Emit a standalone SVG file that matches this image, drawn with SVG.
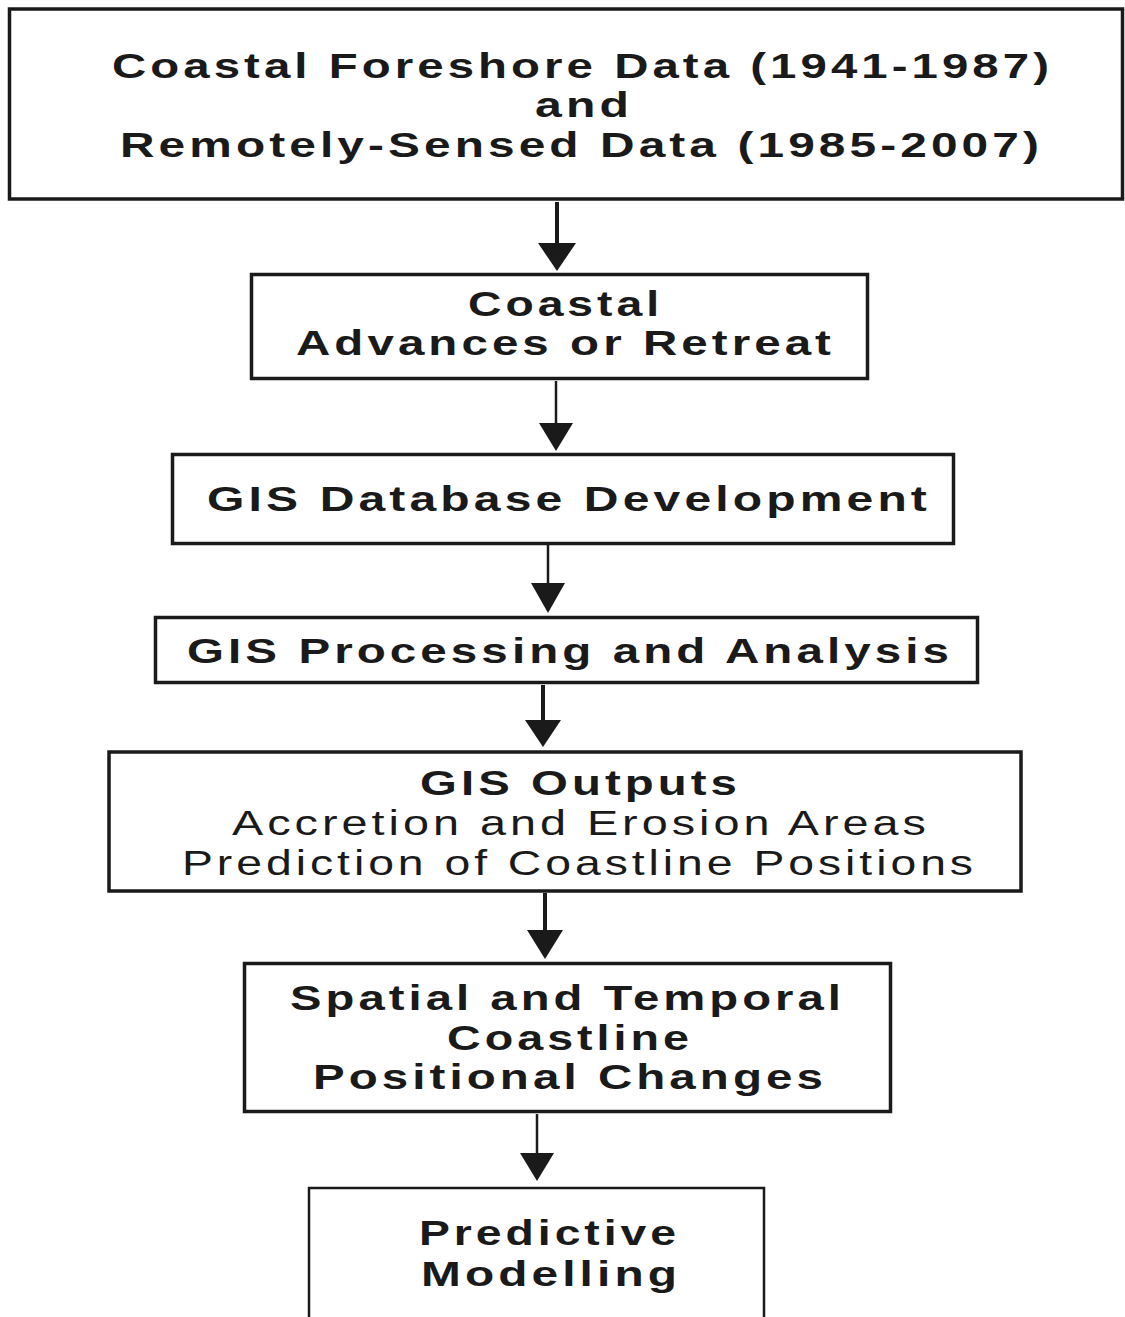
<svg xmlns="http://www.w3.org/2000/svg" width="1125" height="1317" viewBox="0 0 1125 1317">
<style>
.box{fill:#fff;stroke:#1a1a1a;stroke-width:3.5}
.thin{stroke-width:2.5}
.t{font-family:"Liberation Sans",Arial,sans-serif;font-size:35px;font-weight:bold;fill:#1a1a1a;letter-spacing:3px}
.n{font-weight:normal}
.ln{stroke:#1a1a1a;fill:none}
.ah{fill:#1a1a1a}
</style>
<rect width="1125" height="1317" fill="#fff"/>
<g id="connectors">
<line class="ln" x1="557" y1="202" x2="557" y2="246" stroke-width="4"/>
<polygon class="ah" points="538,243 576,243 557,271"/>
<line class="ln" x1="556" y1="381" x2="556" y2="426" stroke-width="2.5"/>
<polygon class="ah" points="539,423 573,423 556,451"/>
<line class="ln" x1="548" y1="545" x2="548" y2="586" stroke-width="2.5"/>
<polygon class="ah" points="531,583 565,583 548,613"/>
<line class="ln" x1="543" y1="685" x2="543" y2="723" stroke-width="4"/>
<polygon class="ah" points="525,720 561,720 543,747"/>
<line class="ln" x1="545" y1="893" x2="545" y2="933" stroke-width="4"/>
<polygon class="ah" points="527,930 563,930 545,959"/>
<line class="ln" x1="537" y1="1114" x2="537" y2="1156" stroke-width="2.5"/>
<polygon class="ah" points="520,1153 554,1153 537,1181"/>
</g>
<g id="node1">
<rect class="box" x="9.5" y="9" width="1113" height="190"/>
<text class="t" x="112" y="78" textLength="941" lengthAdjust="spacingAndGlyphs">Coastal Foreshore Data (1941-1987)</text>
<text class="t" x="535" y="117" textLength="98" lengthAdjust="spacingAndGlyphs">and</text>
<text class="t" x="120" y="157" textLength="923" lengthAdjust="spacingAndGlyphs">Remotely-Sensed Data (1985-2007)</text>
</g>
<g id="node2">
<rect class="box" x="251.5" y="274.5" width="616" height="104"/>
<text class="t" x="468" y="316" textLength="195" lengthAdjust="spacingAndGlyphs">Coastal</text>
<text class="t" x="296" y="355" textLength="539" lengthAdjust="spacingAndGlyphs">Advances or Retreat</text>
</g>
<g id="node3">
<rect class="box" x="172.5" y="454.5" width="781" height="89"/>
<text class="t" x="207" y="511" textLength="724" lengthAdjust="spacingAndGlyphs">GIS Database Development</text>
</g>
<g id="node4">
<rect class="box" x="155.5" y="617.5" width="822" height="65"/>
<text class="t" x="187" y="663" textLength="766" lengthAdjust="spacingAndGlyphs">GIS Processing and Analysis</text>
</g>
<g id="node5">
<rect class="box" x="109" y="752" width="912" height="139"/>
<text class="t" x="420" y="795" textLength="321" lengthAdjust="spacingAndGlyphs">GIS Outputs</text>
<text class="t n" x="232" y="835" textLength="698" lengthAdjust="spacingAndGlyphs">Accretion and Erosion Areas</text>
<text class="t n" x="182" y="875" textLength="795" lengthAdjust="spacingAndGlyphs">Prediction of Coastline Positions</text>
</g>
<g id="node6">
<rect class="box" x="244.5" y="963.5" width="646" height="148"/>
<text class="t" x="290" y="1010" textLength="555" lengthAdjust="spacingAndGlyphs">Spatial and Temporal</text>
<text class="t" x="447" y="1050" textLength="246" lengthAdjust="spacingAndGlyphs">Coastline</text>
<text class="t" x="313" y="1089" textLength="514" lengthAdjust="spacingAndGlyphs">Positional Changes</text>
</g>
<g id="node7">
<rect class="box thin" x="309" y="1188" width="455" height="160"/>
<text class="t" x="419" y="1245" textLength="261" lengthAdjust="spacingAndGlyphs">Predictive</text>
<text class="t" x="421" y="1286" textLength="260" lengthAdjust="spacingAndGlyphs">Modelling</text>
</g>
</svg>
